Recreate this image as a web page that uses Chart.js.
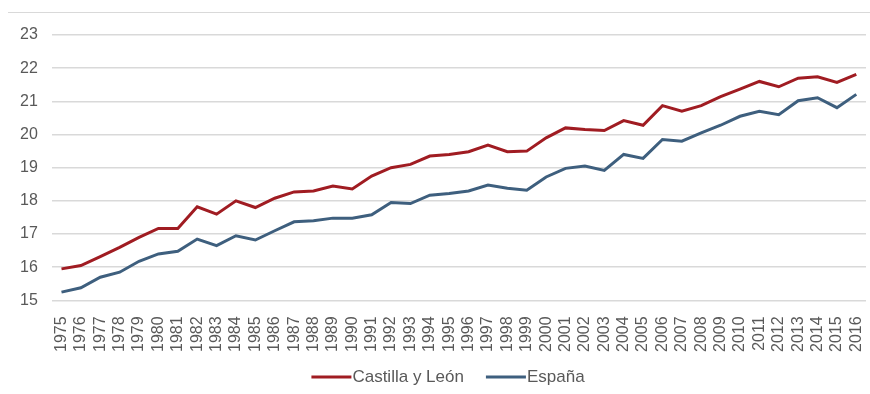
<!DOCTYPE html>
<html lang="es">
<head>
<meta charset="utf-8">
<title>Castilla y León - España</title>
<script src="https://cdn.jsdelivr.net/npm/chart.js@4.4.1/dist/chart.umd.min.js"></script>
<style>
    html, body { margin: 0; padding: 0; background: #ffffff; }
    #wrap { position: relative; width: 870px; height: 394px; }
    #topRule { position: absolute; left: 8px; right: 0; top: 12px; border-top: 1px solid #d9d9d9; }
    canvas { display: block; }
</style>
</head>
<body>
<div id="wrap">
    <div id="topRule"></div>
    <canvas id="chart" width="870" height="394"></canvas>
</div>
<script>
// Years on the horizontal axis
const years = [];
for (let y = 1975; y <= 2016; y++) years.push(String(y));

const castillaLeon = [
    15.95, 16.05, 16.32, 16.6, 16.9, 17.17, 17.17, 17.82, 17.6, 18.0,
    17.8, 18.08, 18.27, 18.3, 18.45, 18.36, 18.75, 19.0, 19.1, 19.35,
    19.4, 19.48, 19.68, 19.48, 19.5, 19.9, 20.2, 20.15, 20.12, 20.42,
    20.28, 20.87, 20.7, 20.87, 21.14, 21.37, 21.6, 21.44, 21.7, 21.74,
    21.57, 21.81
];

const espana = [
    15.25, 15.38, 15.7, 15.85, 16.18, 16.4, 16.48, 16.85, 16.65, 16.95,
    16.82, 17.1, 17.37, 17.4, 17.48, 17.48, 17.58, 17.95, 17.92, 18.17,
    18.22, 18.3, 18.48, 18.38, 18.32, 18.72, 18.98, 19.05, 18.92, 19.4,
    19.28, 19.85, 19.8, 20.05, 20.28, 20.55, 20.7, 20.6, 21.02, 21.11,
    20.81, 21.21
];

const yMin = 15;
const yMax = 23;

const textColor = '#595959';
const gridColor = '#d9d9d9';
const fontFamily = 'Liberation Sans, Arial, sans-serif';

// Legend drawn by hand: colour bar runs straight into the label
const lineLegend = {
    id: 'lineLegend',
    afterDraw(chart) {
        const ctx = chart.ctx;
        const barW = 40, barH = 3, gap = 1, itemGap = 22;
        const centerX = 448, centerY = 377;
        ctx.save();
        ctx.font = '17px ' + fontFamily;
        ctx.textBaseline = 'middle';
        const items = chart.data.datasets.map(ds => ({
            text: ds.label,
            color: ds.borderColor,
            w: barW + gap + ctx.measureText(ds.label).width
        }));
        const total = items.reduce((s, it) => s + it.w, 0) + itemGap * (items.length - 1);
        let x = centerX - total / 2;
        items.forEach(it => {
            ctx.fillStyle = it.color;
            ctx.fillRect(x, centerY - barH / 2, barW, barH);
            ctx.fillStyle = textColor;
            ctx.fillText(it.text, x + barW + gap, centerY);
            x += it.w + itemGap;
        });
        ctx.restore();
    }
};

new Chart(document.getElementById('chart'), {
    type: 'line',
    data: {
        labels: years,
        datasets: [
            {
                label: 'Castilla y León',
                data: castillaLeon,
                borderColor: '#a01c22',
                backgroundColor: '#a01c22',
                borderWidth: 3,
                pointRadius: 0,
                tension: 0
            },
            {
                label: 'España',
                data: espana,
                borderColor: '#3e5f7e',
                backgroundColor: '#3e5f7e',
                borderWidth: 3,
                pointRadius: 0,
                tension: 0
            }
        ]
    },
    options: {
        responsive: false,
        animation: false,
        layout: {
            padding: { left: 6, right: 4, top: 35, bottom: 26 }
        },
        scales: {
            x: {
                offset: true,
                grid: { display: false, drawTicks: false },
                border: { display: false },
                ticks: {
                    autoSkip: false,
                    maxRotation: 90,
                    minRotation: 90,
                    padding: 16,
                    color: textColor,
                    font: { family: fontFamily, size: 16 }
                },
                // keep the rotated labels from pushing the plot inwards
                afterFit: (scale) => {
                    scale.paddingLeft = 0;
                    scale.paddingRight = 0;
                }
            },
            y: {
                min: yMin,
                max: yMax,
                grid: { color: gridColor, lineWidth: 1.5, drawTicks: false },
                border: { display: false },
                ticks: {
                    stepSize: 1,
                    padding: 14,
                    color: textColor,
                    font: { family: fontFamily, size: 16 }
                },
                afterFit: (scale) => {
                    scale.paddingTop = 0;
                    scale.paddingBottom = 0;
                }
            }
        },
        plugins: {
            legend: { display: false },
            tooltip: { enabled: false }
        }
    },
    plugins: [lineLegend]
});
</script>
</body>
</html>
